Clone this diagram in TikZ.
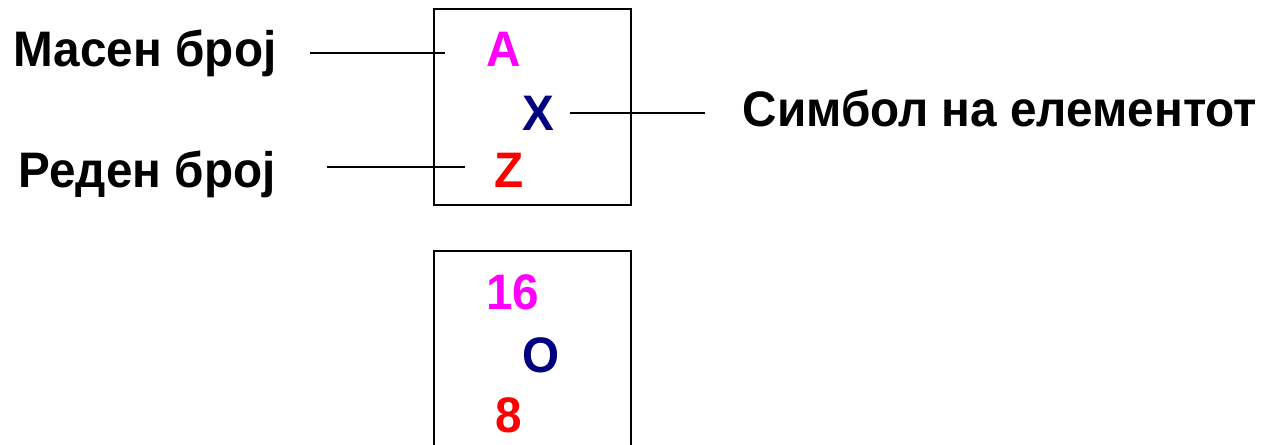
\documentclass[tikz,border=0pt]{standalone}
\usepackage{fontspec}
\setmainfont[FakeStretch=0.955]{Liberation Sans}
\usepackage{xcolor}
\usetikzlibrary{positioning, calc}
\definecolor{massc}{RGB}{255,0,255}
\definecolor{symc}{RGB}{0,0,128}
\definecolor{numc}{RGB}{255,0,0}

\begin{document}
\begin{tikzpicture}[
    lbl/.style={inner sep=0pt, font=\fontsize{14.2}{17}\selectfont\bfseries},
    sym/.style={inner sep=0pt, font=\fontsize{14.2}{17}\selectfont\bfseries},
    cell/.style={draw=black, line width=0.65pt},
    pointer/.style={draw=black, line width=0.6pt}]
    \useasboundingbox (0,0) rectangle (12.7,4.45);
    % boxes
    \draw[cell] (4.34,4.36) rectangle (6.31,2.40);
    \draw[cell] (4.34,1.94) rectangle (6.31,-0.3);
    % general notation
    \node[sym, text=massc] (A) at (5.04,3.96) {A};
    \node[sym, text=symc] (X) at (5.38,3.32) {X};
    \node[sym, text=numc] (Z) at (5.09,2.75) {Z};
    % oxygen
    \node[sym, text=massc] (m16) at (5.13,1.53) {16};
    \node[sym, text=symc] (O) at (5.41,0.90) {O};
    \node[sym, text=numc] (z8) at (5.09,0.30) {8};
    % labels
    \node[lbl, anchor=base west] (mass) at (0.13,3.78) {Масен број};
    \node[lbl, anchor=base west] (order) at (0.18,2.57) {Реден број};
    \node[lbl, anchor=base west] (symname) at (7.42,3.18) {Симбол на елементот};
    \draw[pointer] ([shift={(0.33,-0.04)}]mass.east |- A.west) -- ([shift={(-0.41,-0.04)}]A.west);
    \draw[pointer] ([shift={(0.51,0.03)}]order.east |- Z.west) -- ([shift={(-0.29,0.03)}]Z.west);
    \draw[pointer] ([xshift=0.15cm]X.east) -- ([xshift=-0.37cm]X.east -| symname.west);
\end{tikzpicture}
\end{document}
